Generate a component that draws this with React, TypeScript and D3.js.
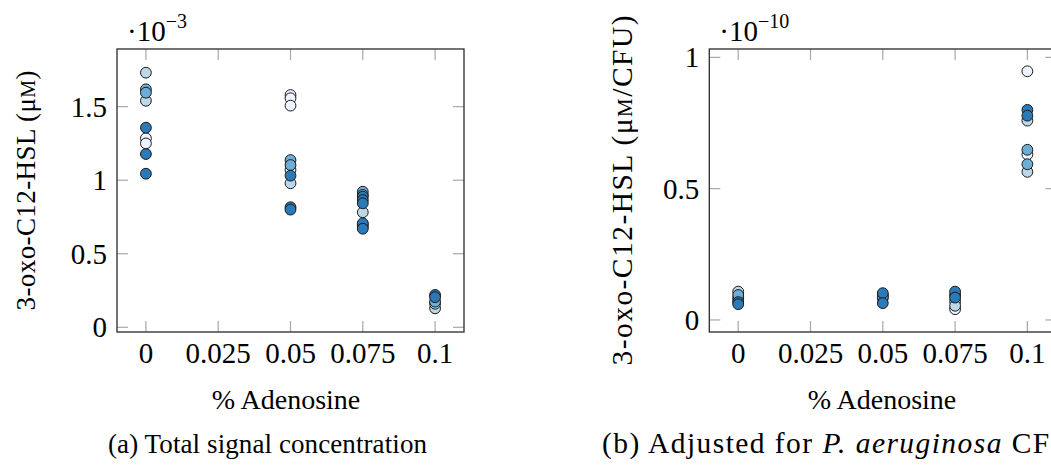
import React from "react";
import * as d3 from "d3";

// ---- data ----
const xValues = [0, 0.05, 0.075, 0.1];
const xTickValues = [0, 0.025, 0.05, 0.075, 0.1];
const xTickLabels = ["0", "0.025", "0.05", "0.075", "0.1"];
const leftYTicks = [0, 0.5, 1, 1.5];
const leftYTickLabels = ["0", "0.5", "1", "1.5"];
const rightYTicks = [0, 0.5, 1];
const rightYTickLabels = ["0", "0.5", "1"];

// series names / colours (one per experiment)
const seriesNames = ["white", "light", "medium", "dark"];
const seriesColors = ["#eff3ff", "#bdd7e7", "#6baed6", "#2a7ab9"];

// (a) total signal, units of 1e-3 µM ; per series, per x-value
const leftWhite = [[1.285, 1.25], [1.579, 1.557, 1.507, 1.07], [0.70], []];
const leftLight = [[1.731, 1.54], [0.979], [0.782, 0.684], [0.129, 0.16]];
const leftMedium = [[1.618, 1.595], [1.137, 1.103], [0.922, 0.9], [0.174]];
const leftDark = [[1.357, 1.178, 1.044], [1.031, 0.816, 0.8], [0.888, 0.865, 0.843, 0.707, 0.67], [0.22, 0.205]];

// (b) adjusted for CFU, units of 1e-10 µM/CFU
const rightWhite = [[0.085], [0.095], [0.041], [0.947, 0.63]];
const rightLight = [[0.108, 0.077], [0.083], [0.07, 0.054], [0.759, 0.564]];
const rightMedium = [[0.095], [0.089], [0.095], [0.648, 0.593]];
const rightDark = [[0.068, 0.06], [0.102, 0.064], [0.108, 0.085], [0.8, 0.778]];

const FONT = "'Liberation Serif', 'DejaVu Serif', serif";
const TICK_FS = 29;

type PanelProps = {
  x0: number;
  x1: number;
  yDomain: [number, number];
  yTicks: number[];
  yTickLabels: string[];
  series: number[][][];
  exponent: string;
  yLabel: React.ReactNode;
  yLabelX: number;
  yLabelLen: number;
  xLabelX: number;
  caption: React.ReactNode;
  captionX: number;
  captionLen: number;
  textFs: number;
};

const TOP = 49;
const BOTTOM = 332;

function Panel(p: PanelProps) {
  const x = d3.scaleLinear().domain([-0.01, 0.11]).range([p.x0, p.x1]);
  const y = d3.scaleLinear().domain(p.yDomain).range([BOTTOM, TOP]);
  const tl = 11;
  const tickColor = "#a8a8a8";
  const cy = (TOP + BOTTOM) / 2;
  const points: { cx: number; cy: number; c: string; k: string }[] = [];
  p.series.forEach((s, si) => {
    s.forEach((vals, xi) => {
      vals.forEach((v, vi) => {
        points.push({ cx: x(xValues[xi]), cy: y(v), c: seriesColors[si], k: `${seriesNames[si]}-${xi}-${vi}` });
      });
    });
  });
  return (
    <g>
      {xTickValues.map((t) => (
        <g key={"xt" + t}>
          <line x1={x(t)} x2={x(t)} y1={BOTTOM} y2={BOTTOM - tl} stroke={tickColor} strokeWidth={1.2} />
          <line x1={x(t)} x2={x(t)} y1={TOP} y2={TOP + tl} stroke={tickColor} strokeWidth={1.2} />
        </g>
      ))}
      {p.yTicks.map((t) => (
        <g key={"yt" + t}>
          <line x1={p.x0} x2={p.x0 + tl} y1={y(t)} y2={y(t)} stroke={tickColor} strokeWidth={1.2} />
          <line x1={p.x1} x2={p.x1 - tl} y1={y(t)} y2={y(t)} stroke={tickColor} strokeWidth={1.2} />
        </g>
      ))}
      {points.map((pt) => (
        <circle key={pt.k} cx={pt.cx} cy={pt.cy} r={5.4} fill={pt.c} stroke="#1a1a1a" strokeWidth={1} />
      ))}
      <rect x={p.x0} y={TOP} width={p.x1 - p.x0} height={BOTTOM - TOP} fill="none" stroke="#2a2a2a" strokeWidth={1.3} />
      {xTickValues.map((t, i) => (
        <text key={"xl" + t} x={x(t)} y={363} textAnchor="middle" fontFamily={FONT} fontSize={TICK_FS}>
          {xTickLabels[i]}
        </text>
      ))}
      {p.yTicks.map((t, i) => (
        <text key={"yl" + t} x={p.x0 - 10} y={y(t) + 10} textAnchor="end" fontFamily={FONT} fontSize={TICK_FS}>
          {p.yTickLabels[i]}
        </text>
      ))}
      <text x={p.x0 + 10} y={41} fontFamily={FONT} fontSize={TICK_FS}>
        ·10
        <tspan fontSize={20} dy={-13}>{p.exponent}</tspan>
      </text>
      <text x={p.xLabelX} y={409} textAnchor="middle" fontFamily={FONT} fontSize={28}>
        % Adenosine
      </text>
      <text
        transform={`translate(${p.yLabelX},${cy}) rotate(-90)`}
        textAnchor="middle"
        fontFamily={FONT}
        fontSize={p.textFs}
        textLength={p.yLabelLen}
        lengthAdjust="spacing"
      >
        {p.yLabel}
      </text>
      <text x={p.captionX} y={453} fontFamily={FONT} fontSize={p.textFs} textLength={p.captionLen} lengthAdjust="spacing">
        {p.caption}
      </text>
    </g>
  );
}

export default function App() {
  if (typeof document !== "undefined") document.body.style.margin = "0";
  return (
    <svg width={1051} height={470} style={{ position: "absolute", left: 0, top: 0, background: "#fff" }}>
      <rect x={0} y={0} width={1051} height={470} fill="#fff" />
      <Panel
        x0={117}
        x1={464}
        yDomain={[-0.032, 1.892]}
        yTicks={leftYTicks}
        yTickLabels={leftYTickLabels}
        series={[leftWhite, leftLight, leftMedium, leftDark]}
        exponent="−3"
        yLabel={
          <>
            3-oxo-C12-HSL (μ<tspan fontSize={20}>M</tspan>)
          </>
        }
        yLabelX={35}
        yLabelLen={240}
        xLabelX={286}
        caption={<>(a) Total signal concentration</>}
        captionX={108}
        captionLen={319}
        textFs={27}
      />
      <Panel
        x0={709.3}
        x1={1056.3}
        yDomain={[-0.0459, 1.0318]}
        yTicks={rightYTicks}
        yTickLabels={rightYTickLabels}
        series={[rightWhite, rightLight, rightMedium, rightDark]}
        exponent="−10"
        yLabel={
          <>
            3-oxo-C12-HSL (μ<tspan fontSize={21}>M</tspan>/CFU)
          </>
        }
        yLabelX={632}
        yLabelLen={350}
        xLabelX={882}
        caption={
          <>
            (b) Adjusted for <tspan fontStyle="italic">P. aeruginosa</tspan> CFU
          </>
        }
        captionX={602}
        captionLen={470}
        textFs={29.5}
      />
    </svg>
  );
}
